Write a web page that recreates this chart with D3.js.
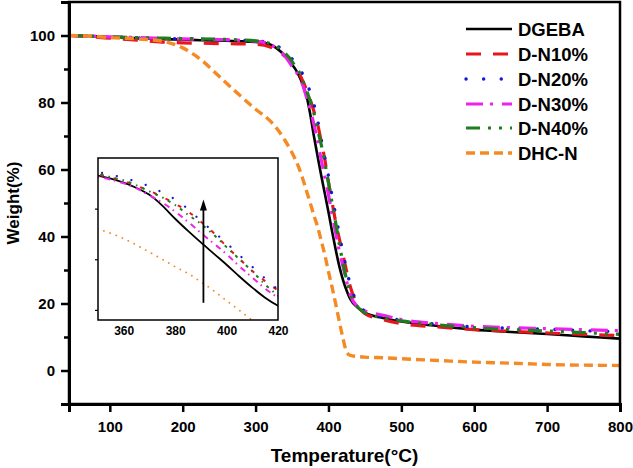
<!DOCTYPE html>
<html><head><meta charset="utf-8">
<script src="https://cdn.jsdelivr.net/npm/d3@7"></script>
<style>
body{margin:0;background:#fff}
text{font-family:Arial,"Liberation Sans",sans-serif;font-weight:bold;fill:#000}
</style>
</head><body><svg id="c" width="633" height="468"></svg>
<script>
// ---------------- data ----------------
const temperature = [44,75,100,150,175,200,225,250,275,300,320,330,340,350,355,360,365,370,375,380,385,390,395,400,405,410,415,420,425,430,440,450,475,500,550,600,650,700,750,800];
const dgeba  = [100,99.8,99.5,99.1,98.9,98.8,98.6,98.5,98.3,98.1,97.3,96.0,94.0,91.3,89.8,87.8,85.2,81.8,76.5,70.0,64.0,58.3,52.8,47.3,41.5,36.0,31.0,27.0,23.8,21.3,18.8,17.3,15.7,14.6,13.3,12.2,11.5,10.9,10.2,9.5];
const dn10   = [100,99.6,99.2,98.4,98.0,97.8,97.7,97.6,97.5,97.4,96.6,95.5,93.8,91.8,90.3,88.6,86.3,83.8,80.8,77.4,73.6,68.5,63.0,56.3,50.2,44.2,39.2,34.5,29.5,25.0,19.5,17.0,15.2,14.0,13.0,12.2,11.7,11.2,10.8,10.4];
const dn20   = [100,99.8,99.6,99.2,99.1,99.0,98.9,98.8,98.6,98.4,97.8,96.8,95.3,93.0,91.8,90.2,88.3,86.0,83.0,79.5,74.8,69.0,63.5,58.0,52.0,46.3,40.5,35.0,30.0,25.5,20.0,17.7,16.0,15.0,13.8,13.0,12.6,12.3,11.9,11.6];
const dn30   = [100,99.8,99.6,99.3,99.1,99.0,98.9,98.8,98.6,98.3,97.3,96.0,94.0,90.8,89.3,87.5,85.0,81.5,78.0,73.5,68.5,63.0,57.8,52.5,46.5,41.0,35.5,31.0,26.5,22.5,19.0,17.8,16.5,15.2,14.0,13.2,12.8,12.5,12.2,11.9];
const dn40   = [100,99.8,99.6,99.3,99.2,99.1,99.0,98.9,98.7,98.4,97.6,96.5,94.8,92.3,90.5,89.0,86.5,83.5,80.5,76.8,72.0,67.5,62.1,56.0,50.0,44.0,37.5,32.0,27.0,23.0,19.0,17.2,15.7,14.8,13.6,12.8,12.2,11.8,11.3,10.8];
const dhcn   = [100,99.8,99.4,98.8,98.2,96.3,92.8,87.8,82.8,78.0,74.5,72.0,68.8,65.0,62.8,60.2,57.0,53.5,50.0,46.3,43.0,38.8,34.5,29.5,24.8,19.8,14.5,9.5,5.5,4.5,4.2,4.0,3.8,3.5,3.0,2.5,2.2,1.8,1.6,1.5];
const seriesNames = ["DGEBA","D-N10%","D-N20%","D-N30%","D-N40%","DHC-N"];
const seriesValues = [dgeba, dn10, dn20, dn30, dn40, dhcn];
const xTickValues = [100,200,300,400,500,600,700,800];
const yTickValues = [0,20,40,60,80,100];
const yMinorTickValues = [10,30,50,70,90];
const insetXTickValues = [360,380,400,420];
const insetYTickValues = [25,50,75];
const arrowTemp = 391, arrowFrom = 28.5, arrowTo = 79.5;

// ---------------- styles ----------------
const colors = ["#000000","#e8151d","#1616d6","#ee22ee","#1f7d1f","#f58a25"];
const mainStyle = [
  {w:2.6, dash:null, cap:"butt"},
  {w:3.2, dash:"15,12", cap:"butt"},
  {w:3.4, dash:"0.1,17.5", cap:"round"},
  {w:3.2, dash:"17,7,3,9", cap:"butt"},
  {w:3.2, dash:"14,8,3,8,3,8", cap:"butt"},
  {w:3.4, dash:"9,5", cap:"butt"}
];
const insetStyle = [
  {w:1.8, dash:null, cap:"butt"},
  {w:2.0, dash:"4,10", cap:"butt"},
  {w:2.2, dash:"0.1,15", cap:"round"},
  {w:2.0, dash:"6,4,1.5,5", cap:"butt"},
  {w:2.0, dash:"3,5,1.5,5", cap:"butt"},
  {w:1.8, dash:"0.1,6.5", cap:"round"}
];

const svg = d3.select("#c");
const W = 633, H = 468;
svg.append("rect").attr("width",W).attr("height",H).attr("fill","#fff");

const x = d3.scaleLinear().domain([44,800]).range([69,620]);
const y = d3.scaleLinear().domain([-10,110]).range([404,2]);

svg.append("clipPath").attr("id","mainclip").append("rect")
  .attr("x",69).attr("y",2).attr("width",551).attr("height",402);

const rows = temperature.map((t,i)=>({t, v: seriesValues.map(s=>s[i])}));

const gLines = svg.append("g").attr("clip-path","url(#mainclip)");
seriesNames.forEach((name,k)=>{
  const line = d3.line().x(d=>x(d.t)).y(d=>y(d.v[k])).curve(d3.curveMonotoneX);
  const st = mainStyle[k];
  gLines.append("path").datum(rows).attr("d",line)
    .attr("fill","none").attr("stroke",colors[k]).attr("stroke-width",st.w)
    .attr("stroke-dasharray",st.dash).attr("stroke-linecap",st.cap).attr("stroke-linejoin","round");
});

// frame
svg.append("rect").attr("x",69).attr("y",2).attr("width",551).attr("height",402)
  .attr("fill","none").attr("stroke","#000").attr("stroke-width",2.5);

// axes
const xAxis = svg.append("g").attr("transform","translate(0,404)")
  .call(d3.axisBottom(x).tickValues(xTickValues).tickSize(8).tickPadding(9).tickFormat(d3.format("d")));
xAxis.select(".domain").attr("stroke-width",3);
xAxis.selectAll(".tick line").attr("stroke-width",2.5);
xAxis.selectAll("text").attr("font-size",15).attr("font-family","Arial,'Liberation Sans',sans-serif").attr("font-weight","bold").attr("fill","#000");

const yAxis = svg.append("g").attr("transform","translate(69,0)")
  .call(d3.axisLeft(y).tickValues(yTickValues).tickSize(8).tickPadding(6).tickFormat(d3.format("d")));
yAxis.select(".domain").attr("stroke-width",3);
yAxis.selectAll(".tick line").attr("stroke-width",2.5);
yAxis.selectAll("text").attr("font-size",15).attr("font-family","Arial,'Liberation Sans',sans-serif").attr("font-weight","bold").attr("fill","#000");

const yMinor = svg.append("g").attr("transform","translate(69,0)")
  .call(d3.axisLeft(y).tickValues(yMinorTickValues).tickSize(5).tickFormat(""));
yMinor.select(".domain").remove();
yMinor.selectAll(".tick line").attr("stroke-width",2.5);

// titles
svg.append("text").attr("x",344.5).attr("y",462).attr("text-anchor","middle")
  .attr("font-size",19).text("Temperature(°C)");
svg.append("text").attr("transform","translate(19,203) rotate(-90)").attr("text-anchor","middle")
  .attr("font-size",17).text("Weight(%)");

// legend
const legY = [29,54,79,104,128,153];
seriesNames.forEach((name,k)=>{
  const st = mainStyle[k];
  svg.append("line").attr("x1",466).attr("x2",512).attr("y1",legY[k]).attr("y2",legY[k])
    .attr("stroke",colors[k]).attr("stroke-width",st.w).attr("stroke-dasharray",st.dash).attr("stroke-linecap",st.cap);
  svg.append("text").attr("x",518).attr("y",legY[k]+6.5).attr("font-size",18.5).text(name);
});

// ---------------- inset ----------------
const ix = d3.scaleLinear().domain([350,420]).range([98,278]);
const iy = d3.scaleLinear().domain([20,100]).range([320,158]);
svg.append("rect").attr("x",98).attr("y",158).attr("width",180).attr("height",162).attr("fill","#fff");
svg.append("clipPath").attr("id","insetclip").append("rect")
  .attr("x",98).attr("y",158).attr("width",180).attr("height",162);
const insetRows = rows.filter(r=>r.t>=340 && r.t<=430);
const gInset = svg.append("g").attr("clip-path","url(#insetclip)");
seriesNames.forEach((name,k)=>{
  const line = d3.line().x(d=>ix(d.t)).y(d=>iy(d.v[k])).curve(d3.curveMonotoneX);
  const st = insetStyle[k];
  gInset.append("path").datum(insetRows).attr("d",line)
    .attr("fill","none").attr("stroke",colors[k]).attr("stroke-width",st.w)
    .attr("stroke-dasharray",st.dash).attr("stroke-linecap",st.cap);
});
// arrow
svg.append("line").attr("x1",ix(arrowTemp)).attr("x2",ix(arrowTemp))
  .attr("y1",iy(arrowFrom)).attr("y2",iy(arrowTo)+8).attr("stroke","#000").attr("stroke-width",1.8);
const ax = ix(arrowTemp), ay = iy(arrowTo);
svg.append("path").attr("d",`M${ax},${ay} L${ax-3.5},${ay+11} L${ax+3.5},${ay+11} Z`).attr("fill","#000");

svg.append("rect").attr("x",98).attr("y",158).attr("width",180).attr("height",162)
  .attr("fill","none").attr("stroke","#000").attr("stroke-width",1.5);
const ixAxis = svg.append("g").attr("transform","translate(0,320)")
  .call(d3.axisBottom(ix).tickValues(insetXTickValues).tickSize(0).tickPadding(6).tickFormat(d3.format("d")));
ixAxis.select(".domain").remove();
ixAxis.selectAll("text").attr("font-size",12).attr("font-family","Arial,'Liberation Sans',sans-serif").attr("font-weight","bold").attr("fill","#000");
const iyAxis = svg.append("g").attr("transform","translate(98,0)")
  .call(d3.axisLeft(iy).tickValues(insetYTickValues).tickSize(3).tickFormat(""));
iyAxis.select(".domain").remove();
iyAxis.selectAll(".tick line").attr("stroke-width",1.2);
</script></body></html>
